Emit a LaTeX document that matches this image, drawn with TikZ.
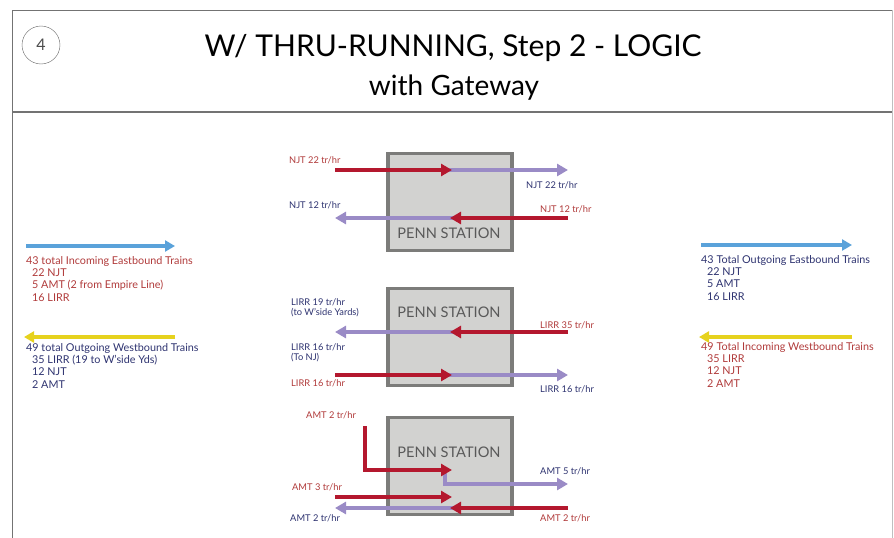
\documentclass[tikz,border=0pt]{standalone}
\usepackage{fontspec}
\setmainfont{Lato}
\usepackage{tikz}
\usetikzlibrary{arrows.meta,calc,positioning}

\definecolor{trainred}{HTML}{B4182E}
\definecolor{trainpurple}{HTML}{9A8BC6}
\definecolor{txtred}{HTML}{B03A3A}
\definecolor{txtnavy}{HTML}{2E3370}
\definecolor{eastblue}{HTML}{5AA2DA}
\definecolor{westyellow}{HTML}{E6D21E}
\definecolor{boxgray}{HTML}{D2D2D0}
\definecolor{boxedge}{HTML}{7C7C7A}

\tikzset{
  station/.style={draw=boxedge,fill=boxgray,line width=3.2pt,minimum width=124pt,minimum height=97pt,inner sep=0pt},
  pslabel/.style={text=black!65,font=\fontsize{14.6}{16}\selectfont,inner sep=0pt},
  redarr/.style={draw=trainred,line width=4.2pt,-{Triangle[length=11pt,width=12pt]}},
  purarr/.style={draw=trainpurple,line width=4.2pt,-{Triangle[length=11pt,width=12pt]}},
  flowarr/.style={line width=4.5pt,-{Triangle[length=10pt,width=11pt]}},
  lbl/.style={font=\fontsize{9.3}{10.5}\selectfont,inner sep=0pt,anchor=west,align=left},
  totals/.style={font=\fontsize{10.8}{12.4}\selectfont,inner sep=0pt,anchor=north west,align=left}
}

\begin{document}
\begin{tikzpicture}[x=1pt,y=-1pt]
  \useasboundingbox (0,0) rectangle (894,538);

  % frame and heading
  \draw[black!55,line width=0.8pt] (12,538) -- (12,10) -- (892,10);
  \draw[black!25,line width=0.6pt] (892,10) -- (892,538);
  \draw[black!55,line width=1.6pt] (12,112) -- (892,112);
  \node[draw=black!60,circle,minimum size=38pt,inner sep=0pt,font=\fontsize{16}{18}\selectfont,text=black!70] (num) at (41,45) {4};
  \node[font=\fontsize{30}{32}\selectfont,inner sep=0pt] (title) at (453,48) {W/ THRU-RUNNING, Step 2 - LOGIC};
  \node[font=\fontsize{28}{30}\selectfont,inner sep=0pt] (subtitle) at (454,88) {with Gateway};

  % NJT
  \node[station] (ps1) at (450,202) {};
  \node[pslabel] (ps1t) at (449,233) {PENN STATION};
  \coordinate (njtA) at (335,170);
  \coordinate (njtB) at (452,170);
  \coordinate (njtC) at (568,170);
  \coordinate (njtD) at (568,218);
  \coordinate (njtE) at (450,218);
  \coordinate (njtF) at (335,218);
  \draw[purarr] ($(njtB)+(-8,0)$) -- (njtC);
  \draw[redarr] (njtA) -- (njtB);
  \draw[purarr] ($(njtE)+(8,0)$) -- (njtF);
  \draw[redarr] (njtD) -- (njtE);
  \node[lbl,text=txtred] (njt22a) at (289,160) {NJT 22 tr/hr};
  \node[lbl,text=txtnavy] (njt22b) at (526,185) {NJT 22 tr/hr};
  \node[lbl,text=txtnavy] (njt12a) at (289,205) {NJT 12 tr/hr};
  \node[lbl,text=txtred] (njt12b) at (540,209) {NJT 12 tr/hr};

  % LIRR
  \node[station] (ps2) at (450,337) {};
  \node[pslabel] (ps2t) at (449,312) {PENN STATION};
  \coordinate (lirA) at (568,332);
  \coordinate (lirB) at (450,332);
  \coordinate (lirC) at (335,332);
  \coordinate (lirD) at (335,375);
  \coordinate (lirE) at (452,375);
  \coordinate (lirF) at (568,375);
  \draw[purarr] ($(lirB)+(8,0)$) -- (lirC);
  \draw[redarr] (lirA) -- (lirB);
  \draw[purarr] ($(lirE)+(-8,0)$) -- (lirF);
  \draw[redarr] (lirD) -- (lirE);
  \node[lbl,text=txtnavy] (lir19) at (291,308) {LIRR 19 tr/hr\\[-1pt](to W'side Yards)};
  \node[lbl,text=txtred] (lir35) at (540,325) {LIRR 35 tr/hr};
  \node[lbl,text=txtnavy] (lir16a) at (291,353) {LIRR 16 tr/hr\\[-1pt](To NJ)};
  \node[lbl,text=txtred] (lir16b) at (291,383) {LIRR 16 tr/hr};
  \node[lbl,text=txtnavy] (lir16c) at (540,389) {LIRR 16 tr/hr};

  % AMT
  \node[station] (ps3) at (450,466) {};
  \node[pslabel] (ps3t) at (449,452) {PENN STATION};
  \coordinate (amtA) at (365,426);
  \coordinate (amtB) at (452,470);
  \coordinate (amtC) at (445,468);
  \coordinate (amtD) at (568,484);
  \coordinate (amtE) at (335,497);
  \coordinate (amtF) at (452,497);
  \coordinate (amtG) at (568,508);
  \coordinate (amtH) at (450,508);
  \coordinate (amtI) at (335,508);
  \draw[purarr] (amtC) |- (amtD);
  \draw[redarr] (amtA) |- (amtB);
  \draw[redarr] (amtE) -- (amtF);
  \draw[purarr] ($(amtH)+(8,0)$) -- (amtI);
  \draw[redarr] (amtG) -- (amtH);
  \node[lbl,text=txtred] (amt2a) at (306,415) {AMT 2 tr/hr};
  \node[lbl,text=txtnavy] (amt5) at (540,471) {AMT 5 tr/hr};
  \node[lbl,text=txtred] (amt3) at (292,487) {AMT 3 tr/hr};
  \node[lbl,text=txtnavy] (amt2b) at (290,518) {AMT 2 tr/hr};
  \node[lbl,text=txtred] (amt2c) at (540,518) {AMT 2 tr/hr};

  % totals, west side
  \coordinate (wA) at (26,246);
  \coordinate (wB) at (175,246);
  \coordinate (wC) at (175,337);
  \coordinate (wD) at (24,337);
  \draw[flowarr,eastblue] (wA) -- (wB);
  \draw[flowarr,westyellow] (wC) -- (wD);
  \node[totals,text=txtred] (inEast) at (26,256) {43 total Incoming Eastbound Trains\\
    \hspace*{6pt}22 NJT\\ \hspace*{6pt}5 AMT (2 from Empire Line)\\ \hspace*{6pt}16 LIRR};
  \node[totals,text=txtnavy] (outWest) at (26,343) {49 total Outgoing Westbound Trains\\
    \hspace*{6pt}35 LIRR (19 to W'side Yds)\\ \hspace*{6pt}12 NJT\\ \hspace*{6pt}2 AMT};

  % totals, east side
  \coordinate (eA) at (701,245);
  \coordinate (eB) at (852,245);
  \coordinate (eC) at (852,337);
  \coordinate (eD) at (699,337);
  \draw[flowarr,eastblue] (eA) -- (eB);
  \draw[flowarr,westyellow] (eC) -- (eD);
  \node[totals,text=txtnavy] (outEast) at (701,255) {43 Total Outgoing Eastbound Trains\\
    \hspace*{6pt}22 NJT\\ \hspace*{6pt}5 AMT\\ \hspace*{6pt}16 LIRR};
  \node[totals,text=txtred] (inWest) at (701,342) {49 Total Incoming Westbound Trains\\
    \hspace*{6pt}35 LIRR\\ \hspace*{6pt}12 NJT\\ \hspace*{6pt}2 AMT};
\end{tikzpicture}
\end{document}
